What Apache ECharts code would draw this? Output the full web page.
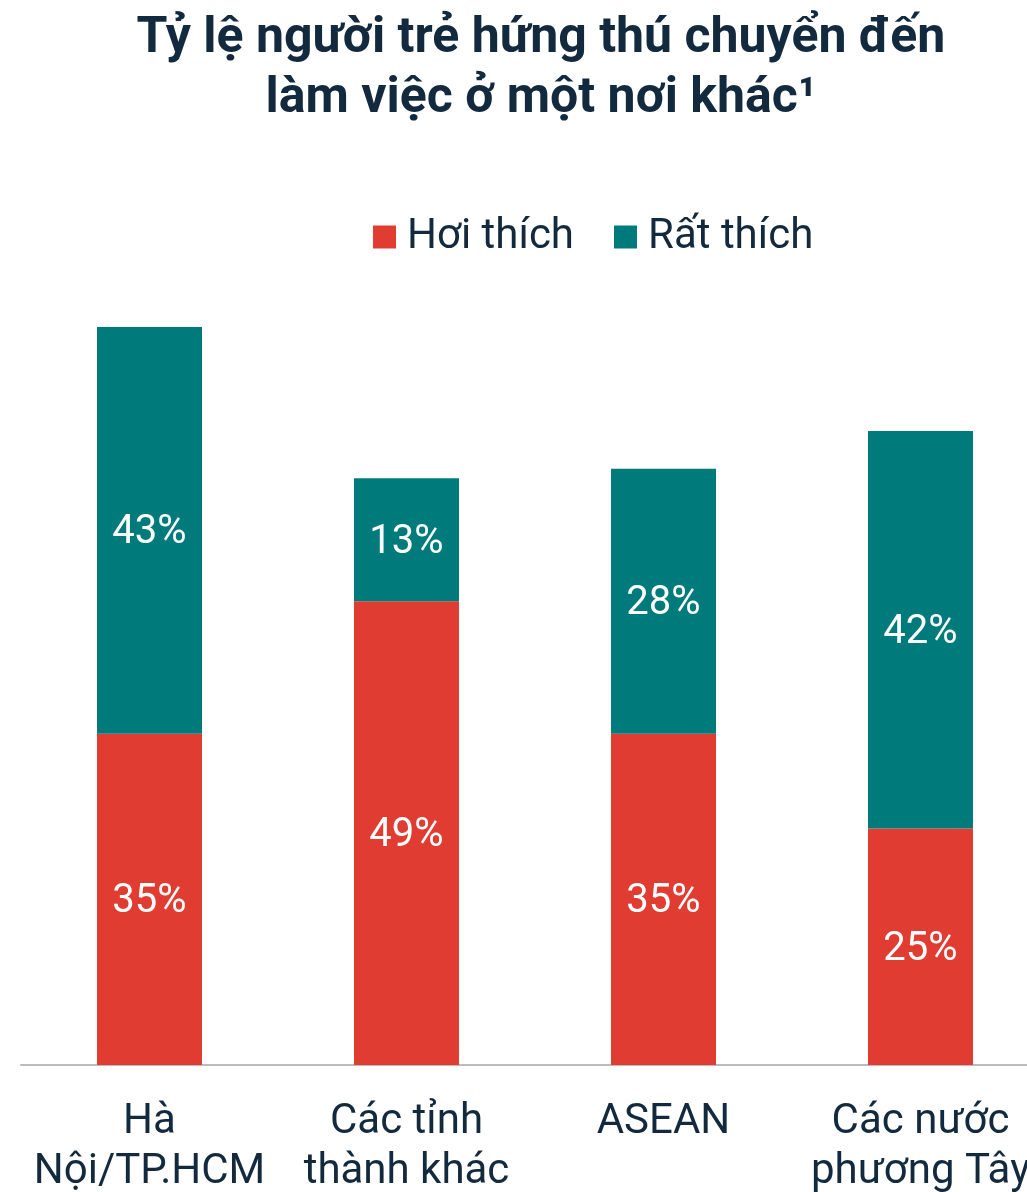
<!DOCTYPE html>
<html>
<head>
<meta charset="utf-8">
<script src="https://cdn.jsdelivr.net/npm/echarts@6/dist/echarts.min.js"></script>
<style>
  html, body { margin: 0; padding: 0; background: #ffffff; }
  #chart { width: 1027px; height: 1192px; }
</style>
</head>
<body>
<div id="chart"></div>
<script>
// Destinations young people would consider moving to for work
const categories = ['Hà\nNội/TP.HCM', 'Các tỉnh\nthành khác', 'ASEAN', 'Các nước\nphương Tây'];
const seriesNames = ['Hơi thích', 'Rất thích'];
const somewhatValues = [35, 49, 35, 25];
const veryValues = [43, 13, 28, 42];

const RED = '#E03C31';
const TEAL = '#007A7A';
const INK = '#132A3E';

const chart = echarts.init(document.getElementById('chart'));

const segmentLabel = {
  show: true,
  position: 'inside',
  offset: [0, 3],
  color: '#ffffff',
  fontFamily: 'Roboto',
  fontSize: 40,
  formatter: p => p.value + '%'
};

chart.setOption({
  backgroundColor: '#ffffff',
  animation: false,
  title: {
    text: 'Tỷ lệ người trẻ hứng thú chuyển đến\nlàm việc ở một nơi khác¹',
    left: 536,
    top: 4,
    textAlign: 'center',
    textStyle: {
      fontFamily: 'Roboto',
      fontWeight: 'bold',
      fontSize: 50,
      lineHeight: 60,
      color: INK
    }
  },
  legend: {
    data: seriesNames,
    left: 368,
    top: 211,
    icon: 'rect',
    itemWidth: 23,
    itemHeight: 23,
    itemGap: 40,
    textStyle: {
      fontFamily: 'Roboto',
      fontSize: 42,
      color: INK,
      padding: [0, 0, 0, 6]
    }
  },
  // plot area runs slightly past the right edge so the last bar is clipped there
  grid: {
    left: 21,
    width: 1028,
    top: 308,
    height: 757,
    containLabel: false,
    outerBoundsMode: 'none'
  },
  xAxis: {
    type: 'category',
    data: categories,
    axisLine: { show: true, lineStyle: { color: '#BBBBBB', width: 2 } },
    axisTick: { show: false },
    axisLabel: {
      interval: 0,
      margin: 32,
      fontFamily: 'Roboto',
      fontSize: 42,
      lineHeight: 50,
      color: INK
    }
  },
  yAxis: {
    type: 'value',
    min: 0,
    max: 80,
    show: false,
    splitLine: { show: false }
  },
  series: [
    {
      name: seriesNames[0],
      type: 'bar',
      stack: 'total',
      barWidth: 105,
      data: somewhatValues,
      itemStyle: { color: RED },
      label: segmentLabel
    },
    {
      name: seriesNames[1],
      type: 'bar',
      stack: 'total',
      barWidth: 105,
      data: veryValues,
      itemStyle: { color: TEAL },
      label: segmentLabel
    }
  ]
});
</script>
</body>
</html>
